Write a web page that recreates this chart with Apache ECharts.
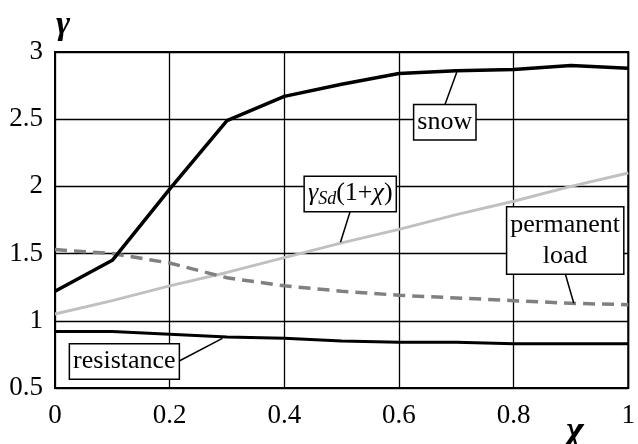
<!DOCTYPE html>
<html>
<head>
<meta charset="utf-8">
<script src="https://cdn.jsdelivr.net/npm/echarts@6/dist/echarts.min.js"></script>
<style>
html,body{margin:0;padding:0;background:#fff;}
#c{width:638px;height:444px;}
</style>
</head>
<body>
<div id="c"></div>
<script>
// ---- data ----
const chi = [0, 0.1, 0.2, 0.3, 0.4, 0.5, 0.6, 0.7, 0.8, 0.9, 1.0];
const snow = [1.22, 1.45, 1.98, 2.49, 2.67, 2.76, 2.84, 2.86, 2.87, 2.90, 2.88];
const permanentLoad = [1.53, 1.50, 1.43, 1.32, 1.26, 1.22, 1.19, 1.17, 1.15, 1.13, 1.12];
const gammaSd = [1.05, 1.15, 1.26, 1.36, 1.47, 1.58, 1.68, 1.79, 1.89, 2.00, 2.10];
const resistance = [0.92, 0.92, 0.90, 0.88, 0.87, 0.85, 0.84, 0.84, 0.83, 0.83, 0.83];

// annotation anchors in data coordinates [chi, gamma]
const snowLabelAt = [0.680, 2.478];
const snowLeader = [[0.680, 2.605], [0.701, 2.851]];
const gsdLabelAt = [0.515, 1.943];
const gsdLeader = [[0.515, 1.815], [0.498, 1.584]];
const permLabelAt = [0.890, 1.597];
const permLeader = [[0.890, 1.352], [0.905, 1.130]];
const resLabelAt = [0.121, 0.697];
const resLeader = [[0.215, 0.697], [0.292, 0.869]];

const FONT = '"Liberation Serif", "Times New Roman", serif';

function pairs(xs, ys) { return xs.map((x, i) => [x, ys[i]]); }

function leader(seg) {
  return {
    silent: true, symbol: 'none', animation: false,
    label: { show: false },
    lineStyle: { color: '#000', width: 1.5, type: 'solid' },
    emphasis: { disabled: true },
    data: [[{ coord: seg[0] }, { coord: seg[1] }]]
  };
}
function boxLabel(at, formatter, extra) {
  return {
    silent: true, animation: false,
    symbol: 'rect', symbolSize: 0,
    emphasis: { disabled: true },
    data: [{ coord: at }],
    label: Object.assign({
      show: true, position: 'inside', formatter: formatter,
      color: '#000', fontFamily: FONT, fontSize: 26,
      backgroundColor: '#fff', borderColor: '#000', borderWidth: 1.5,
      padding: [3, 3, 1, 3], lineHeight: 30, align: 'center', verticalAlign: 'middle'
    }, extra || {})
  };
}

const chart = echarts.init(document.getElementById('c'), null, { renderer: 'canvas' });
chart.setOption({
  animation: false,
  backgroundColor: '#fff',
  textStyle: { fontFamily: FONT },
  grid: { left: 55, right: 1, top: 52, bottom: 56, show: true, borderColor: '#000', borderWidth: 2, backgroundColor: 'transparent' },
  xAxis: {
    type: 'value', min: 0, max: 1, interval: 0.2,
    axisLine: { lineStyle: { color: '#000', width: 2 } },
    axisTick: { show: false },
    splitLine: { lineStyle: { color: '#000', width: 1.3 } },
    axisLabel: { color: '#000', fontFamily: FONT, fontSize: 27, margin: 14 }
  },
  yAxis: {
    type: 'value', min: 0.5, max: 3, interval: 0.5,
    axisLine: { show: true, lineStyle: { color: '#000', width: 2 } },
    axisTick: { show: false },
    splitLine: { lineStyle: { color: '#000', width: 1.3 } },
    axisLabel: { color: '#000', fontFamily: FONT, fontSize: 27, margin: 12 }
  },
  graphic: [
    { type: 'text', left: 56, top: 8, style: { text: 'γ', fontFamily: FONT, fontStyle: 'italic', fontWeight: 'bold', fontSize: 34, fill: '#000' } },
    { type: 'text', left: 566, top: 413, style: { text: 'χ', fontFamily: FONT, fontStyle: 'italic', fontWeight: 'bold', fontSize: 38, fill: '#000' } }
  ],
  series: [
    {
      name: 'γSd(1+χ)', type: 'line', data: pairs(chi, gammaSd), showSymbol: false,
      lineStyle: { color: '#c0c0c0', width: 3 }, z: 2,
      markLine: leader(gsdLeader),
      markPoint: boxLabel(gsdLabelAt, '{g|γ}{s|Sd}{n|(1+}{g|χ}{n|)}', {
        padding: [1, 3, 3, 3],
        rich: {
          g: { fontFamily: FONT, fontStyle: 'italic', fontSize: 26, color: '#000' },
          s: { fontFamily: FONT, fontStyle: 'italic', fontSize: 18, color: '#000', verticalAlign: 'bottom', padding: [10, 0, 0, 0] },
          n: { fontFamily: FONT, fontSize: 26, color: '#000' }
        }
      })
    },
    {
      name: 'permanent load', type: 'line', data: pairs(chi, permanentLoad), showSymbol: false,
      lineStyle: { color: '#808080', width: 3.5, type: [12, 7] }, z: 3,
      markLine: leader(permLeader),
      markPoint: boxLabel(permLabelAt, 'permanent\nload', { lineHeight: 31, padding: [2, 3, 2, 3] })
    },
    {
      name: 'snow', type: 'line', data: pairs(chi, snow), showSymbol: false,
      lineStyle: { color: '#000', width: 3.5 }, z: 4,
      markLine: leader(snowLeader),
      markPoint: boxLabel(snowLabelAt, 'snow')
    },
    {
      name: 'resistance', type: 'line', data: pairs(chi, resistance), showSymbol: false,
      lineStyle: { color: '#000', width: 3 }, z: 4,
      markLine: leader(resLeader),
      markPoint: boxLabel(resLabelAt, 'resistance')
    }
  ]
});
</script>
</body>
</html>
